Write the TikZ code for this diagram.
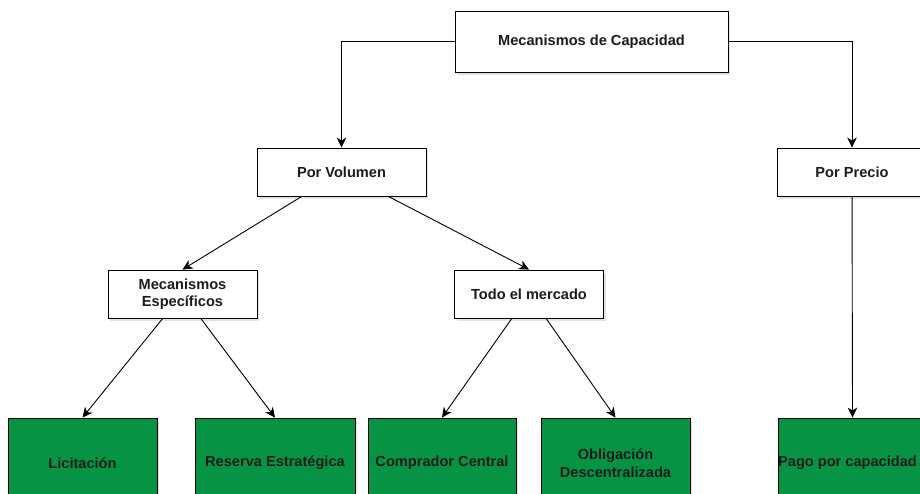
\documentclass[tikz,border=0pt]{standalone}
\usepackage{fontspec}
\setmainfont{Liberation Sans}
\usetikzlibrary{arrows.meta,positioning,shadows}
\definecolor{capgreen}{RGB}{6,148,68}
\definecolor{capink}{RGB}{28,28,28}
\tikzset{
  catblock/.style={draw=black, fill=white, line width=0.9pt, align=center, inner sep=2pt,
    minimum height=48pt, font=\fontsize{14.6}{17.5}\selectfont\bfseries, text=capink,
    drop shadow={shadow xshift=2pt, shadow yshift=-2.5pt, opacity=0.22}},
  leafblock/.style={catblock, fill=capgreen, minimum width=149pt, minimum height=90pt},
  flow/.style={-{Stealth[length=10pt,width=9.5pt,inset=3pt]}, line width=0.9pt, draw=black}
}

\begin{document}
\begin{tikzpicture}[x=1pt, y=-1pt]
      \useasboundingbox (0,0) rectangle (920,493);
      \clip (0,0) rectangle (920,493);
      \fill[white] (0,0) rectangle (920,493);
      % upper levels
      \node[catblock, minimum width=273pt, minimum height=61pt] (root) at (591.5,41.5) {Mecanismos de Capacidad};
      \node[catblock, minimum width=169pt] (vol) at (341.5,172) {Por Volumen};
      \node[catblock, minimum width=150pt] (price) at (852,172) {Por Precio};
      \node[catblock, minimum width=149pt] (spec) at (182.5,294) {Mecanismos\\Específicos};
      \node[catblock, minimum width=149pt] (market) at (529,294) {Todo el mercado};
      % leaves
      \node[leafblock] (tender) at (82.5,463) {Licitación};
      \node[leafblock, minimum width=160pt] (reserve) at (275,463) {Reserva Estratégica};
      \node[leafblock, minimum width=148pt] (buyer) at (442,463) {Comprador Central};
      \node[leafblock] (oblig) at (615.5,463) {Obligación\\Descentralizada};
      \node[leafblock] (payment) at (852.5,463) {\kern-10pt Pago por capacidad};
      \draw[flow] (root.west) -| (vol.north);
      \draw[flow] (root.east) -| (price.north);
      \draw[flow] (vol) -- (spec.north);
      \draw[flow] (vol) -- (market.north);
      \draw[flow] (spec) -- (tender.north);
      \draw[flow] (spec) -- (reserve.north);
      \draw[flow] (market) -- (buyer.north);
      \draw[flow] (market) -- (oblig.north);
      \draw[flow] (price) -- (payment.north);
    \end{tikzpicture}
\end{document}
